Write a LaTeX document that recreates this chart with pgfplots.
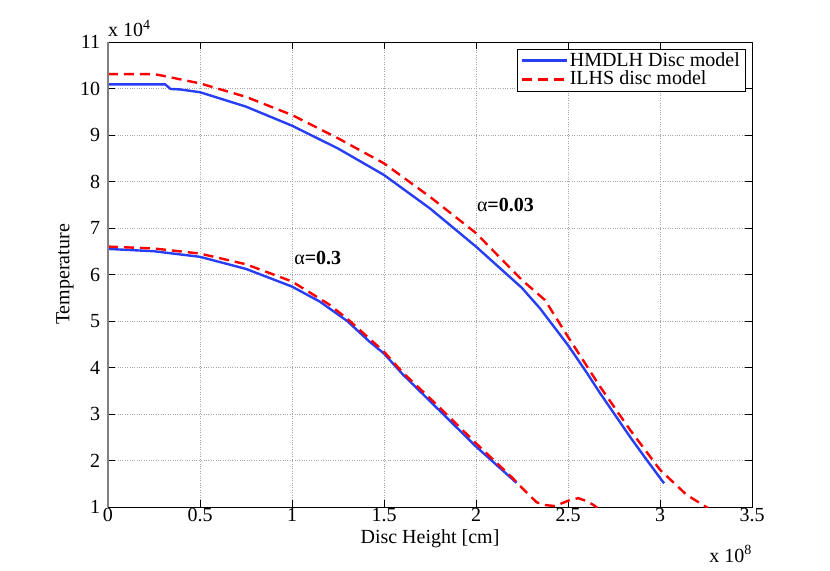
\documentclass[border=0pt]{standalone}
\usepackage{fontspec}
\setmainfont{Liberation Serif}
\usepackage{pgfplots}
\pgfplotsset{compat=1.18}
\definecolor{mblue}{RGB}{40,62,245}
\definecolor{mred}{RGB}{255,0,0}
\begin{document}
\fontsize{20bp}{24bp}\selectfont
\begin{tikzpicture}
\path[use as bounding box] (-108bp,-64bp) rectangle (722bp,507bp);
\begin{axis}[
  scale only axis,
  width=644bp, height=465bp,
  xmin=0, xmax=3.5, ymin=1, ymax=11,
  clip mode=individual,
  xtick={0,0.5,1,1.5,2,2.5,3,3.5},
  ytick={1,2,3,4,5,6,7,8,9,10,11},
  xticklabels={0,0.5,1,1.5,2,2.5,3,3.5},
  yticklabels={1,2,3,4,5,6,7,8,9,10,11},
  /pgf/number format/assume math mode=true,
  tick align=inside,
  major tick length=7bp,
  tick style={black, line width=0.5bp},
  axis line style={black, line width=0.6bp},
  grid=major,
  grid style={gray!70, dotted, line width=0.6bp},
  xlabel={Disc Height [cm]},
  ylabel={Temperature},
  every axis x label/.style={at={(axis description cs:0.5,0)}, anchor=base, yshift=-36bp, inner sep=0pt},
  every axis y label/.style={at={(axis description cs:-0.067,0.5)}, anchor=center, rotate=90},
  xticklabel style={yshift=1bp, inner sep=2bp},
  yticklabel style={xshift=-1bp},
  legend style={at={(1,1)}, anchor=north east, xshift=-7bp, yshift=-7bp,
     draw=black, fill=white, inner xsep=3bp, inner ysep=1bp,
     row sep=-2bp, cells={anchor=west}},
  legend image code/.code={\draw[#1, line width=2.4bp] (0bp,0bp) -- (45bp,0bp);},
]
% alpha = 0.03
\addplot[mblue, line width=2.4bp] coordinates {
(0,10.09) (0.31,10.09) (0.34,9.99) (0.39,9.98) (0.5,9.92) (0.75,9.61) (1.0,9.20)
(1.25,8.71) (1.5,8.14) (1.75,7.42) (2.0,6.60) (2.25,5.71) (2.348,5.27) (2.5,4.48)
(2.6,3.90) (2.674,3.45) (2.837,2.51) (2.93,2.0) (3.022,1.51)};
\addlegendentry{HMDLH Disc model}
\addplot[mred, line width=2.4bp, dash pattern=on 10bp off 6bp] coordinates {
(0,10.31) (0.25,10.31) (0.29,10.28) (0.5,10.11) (0.75,9.82) (1.0,9.43) (1.25,8.93)
(1.5,8.39) (1.75,7.67) (2.0,6.89) (2.25,5.88) (2.375,5.45) (2.5,4.66) (2.674,3.59)
(2.837,2.66) (3.0,1.80) (3.145,1.26) (3.235,1.04) (3.26,0.98)};
\addlegendentry{ILHS disc model}
% alpha = 0.3
\addplot[mblue, line width=2.4bp, forget plot] coordinates {
(0,6.55) (0.25,6.50) (0.5,6.38) (0.75,6.12) (1.0,5.74) (1.15,5.42) (1.3,5.0)
(1.42,4.56) (1.5,4.30) (1.6,3.86) (1.79,3.12) (2.0,2.30) (2.22,1.52)};
\addplot[mred, line width=2.4bp, dash pattern=on 10bp off 6bp, forget plot] coordinates {
(0,6.60) (0.25,6.56) (0.5,6.45) (0.75,6.22) (1.0,5.85) (1.2,5.36) (1.3,5.05)
(1.5,4.34) (1.6,3.90) (1.8,3.15) (2.0,2.37) (2.2,1.62) (2.26,1.37) (2.33,1.10)
(2.38,1.04) (2.43,1.02) (2.51,1.15) (2.556,1.19) (2.6,1.13) (2.64,1.04) (2.66,0.98)};
\draw[gray, line width=1.5bp] (rel axis cs:0,0) -- (rel axis cs:0,1);
\node at (axis cs:2.16,7.5) {α\textbf{=0.03}};
\node at (axis cs:1.14,6.35) {α\textbf{=0.3}};
\node[anchor=south west, inner sep=0pt, yshift=5bp] at (rel axis cs:0,1) {x 10\textsuperscript{4}};
\node[anchor=base east, inner sep=0pt, yshift=-55bp] at (rel axis cs:1,0) {x 10\textsuperscript{8}};
\end{axis}
\end{tikzpicture}
\end{document}
